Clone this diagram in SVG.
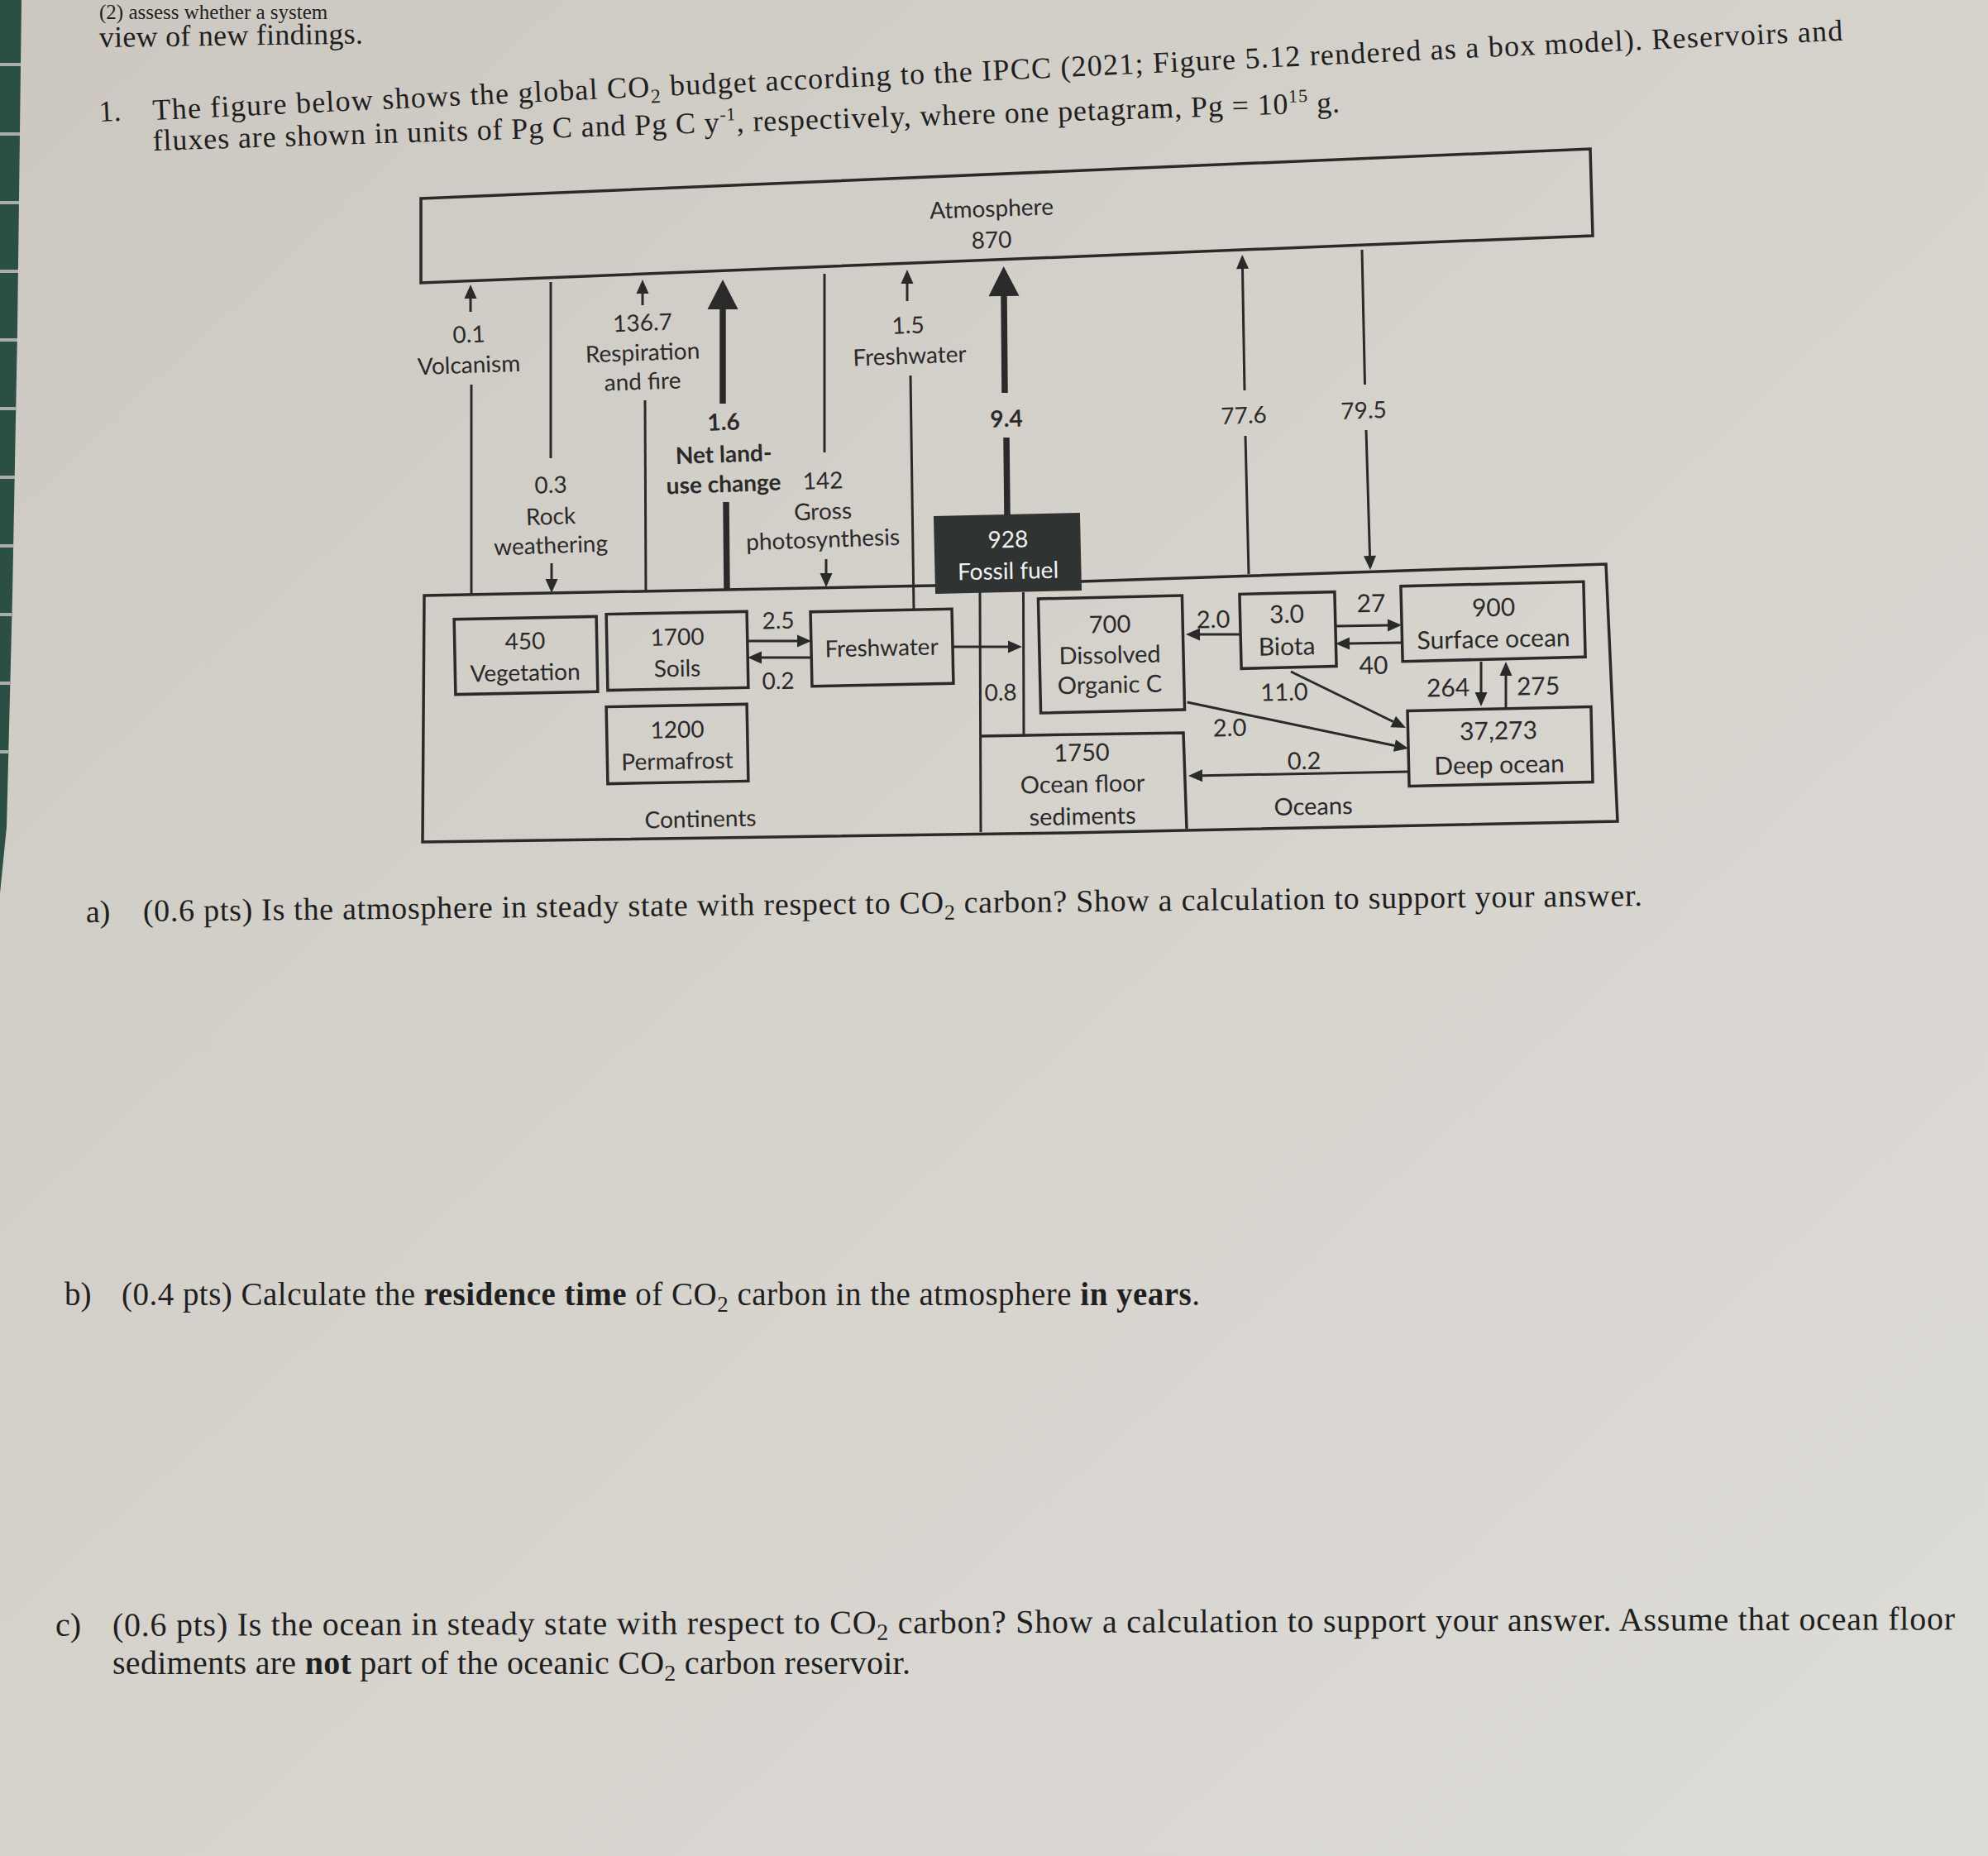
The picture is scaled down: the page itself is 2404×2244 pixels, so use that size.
<svg xmlns="http://www.w3.org/2000/svg" width="2404" height="2244" viewBox="0 0 2404 2244">
<defs>
<linearGradient id="paper" x1="0" y1="0" x2="1" y2="1">
<stop offset="0" stop-color="#ccc8c1"/>
<stop offset="0.5" stop-color="#d6d3cd"/>
<stop offset="1" stop-color="#dedcd7"/>
</linearGradient>
<marker id="ah" markerUnits="userSpaceOnUse" markerWidth="18" markerHeight="16" viewBox="0 -8 18 16" refX="0" refY="0" orient="auto" overflow="visible"><path d="M0,-7.5 L17,0 L0,7.5 Z" fill="#2a2a2a"/></marker>
<marker id="big" markerUnits="userSpaceOnUse" markerWidth="37" markerHeight="38" viewBox="0 -19 37 38" refX="0" refY="0" orient="auto" overflow="visible"><path d="M0,-18.5 L36,0 L0,18.5 Z" fill="#2a2a2a"/></marker>
</defs>
<style>
.ln{stroke:#2a2a2a;stroke-width:3;fill:none}
.thick{stroke:#2a2a2a;stroke-width:7.5;fill:none}
.bx{fill:none;stroke:#2a2a2a;stroke-width:3.5}
.t{font-family:Lato,'Open Sans','Liberation Sans',sans-serif;font-size:28px;fill:#2a2a2a;text-anchor:middle}
.r{font-size:30px}
.m{font-size:29px}
.b{font-weight:700}
.w{fill:#f2f2f2}
.up{transform-box:fill-box;transform-origin:center;transform:rotate(-2deg)}
.lo{transform-box:fill-box;transform-origin:center;transform:rotate(-1.2deg)}
.q{font-family:'Liberation Serif','Times New Roman',serif;fill:#1f1f1f}
.qb{font-weight:700}
</style>
<rect x="0" y="0" width="2404" height="2244" fill="url(#paper)"/>
<g id="binding">
<polygon points="0,0 26,0 21,400 15,720 8,1000 0,1080" fill="#2c4f43"/>
<g fill="#a9aeab">
<rect x="0" y="76" width="25" height="4"/><rect x="0" y="160" width="24" height="4"/><rect x="0" y="243" width="23" height="4"/><rect x="0" y="326" width="22" height="4"/><rect x="0" y="409" width="21" height="4"/><rect x="0" y="492" width="20" height="4"/><rect x="0" y="575" width="18" height="4"/><rect x="0" y="658" width="16" height="4"/><rect x="0" y="741" width="14" height="4"/><rect x="0" y="824" width="12" height="4"/><rect x="0" y="907" width="10" height="4"/>
</g>
</g>
<g id="header">
<text class="q" x="120" y="23" font-size="25">(2) assess whether a system</text>
<text class="q" x="120" y="57" font-size="36" textLength="319" lengthAdjust="spacing" transform="rotate(-0.8 120 57)">view of new findings.</text>
<text class="q" x="120" y="147" font-size="36" transform="rotate(-2.7 120 147)">1.</text>
<text class="q" x="185" y="145" font-size="36" textLength="2046" lengthAdjust="spacing" transform="rotate(-2.7 185 145)">The figure below shows the global CO<tspan font-size="24" dy="8">2</tspan><tspan dy="-8"> budget according to the IPCC (2021; Figure 5.12 rendered as a box model). Reservoirs and</tspan></text>
<text class="q" x="185" y="182" font-size="36" textLength="1436" lengthAdjust="spacing" transform="rotate(-1.85 185 182)">fluxes are shown in units of Pg C and Pg C y<tspan font-size="22" dy="-14">-1</tspan><tspan dy="14">, respectively, where one petagram, Pg = 10</tspan><tspan font-size="22" dy="-14">15</tspan><tspan dy="14"> g.</tspan></text>
</g>
<g id="atmosphere">
<polygon class="bx" points="509,240 1923,180 1926,285 509,342"/>
<text class="t up" x="1199" y="262">Atmosphere</text>
<text class="t up" x="1199" y="300">870</text>
</g>
<g id="frame">
<path class="bx" d="M513,720 L1130,708 L1307,703 L1942,682 L1956,993 L1290,1007 L511,1018 Z"/>
<text class="t lo" x="847" y="1000">Continents</text>
<text class="t m lo" x="1588" y="985">Oceans</text>
</g>
<g id="fossil-fuel">
<rect x="1130" y="622" width="177" height="94" fill="#2f3432" transform="rotate(-1.3 1218 669)"/>
<text class="t w lo" x="1219" y="662">928</text>
<text class="t w lo" x="1219" y="700">Fossil fuel</text>
</g>
<g id="vegetation">
<rect class="bx" x="550" y="747" width="172" height="91" transform="rotate(-1.1 636 792)"/>
<text class="t lo" x="635" y="785">450</text>
<text class="t lo" x="635" y="823">Vegetation</text>
</g>
<g id="soils">
<rect class="bx" x="734" y="741" width="170" height="92" transform="rotate(-1.1 819 787)"/>
<text class="t lo" x="819" y="780">1700</text>
<text class="t lo" x="819" y="818">Soils</text>
</g>
<g id="permafrost">
<rect class="bx" x="734" y="853" width="170" height="93" transform="rotate(-1.1 819 899)"/>
<text class="t lo" x="819" y="892">1200</text>
<text class="t lo" x="819" y="930">Permafrost</text>
</g>
<g id="freshwater">
<rect class="bx" x="981" y="738" width="171" height="90" transform="rotate(-1.2 1066 783)"/>
<text class="t lo" x="1066" y="793">Freshwater</text>
</g>
<g id="doc">
<rect class="bx" x="1257" y="722" width="174" height="138" transform="rotate(-1.3 1344 791)"/>
<text class="t m lo" x="1342" y="765">700</text>
<text class="t m lo" x="1342" y="802">Dissolved</text>
<text class="t m lo" x="1342" y="838">Organic C</text>
</g>
<g id="biota">
<rect class="bx" x="1500" y="717" width="115" height="90" transform="rotate(-1.4 1557 762)"/>
<text class="t r lo" x="1556" y="753">3.0</text>
<text class="t r lo" x="1556" y="792">Biota</text>
</g>
<g id="surface-ocean">
<rect class="bx" x="1695" y="706" width="221" height="91" transform="rotate(-1.4 1805 751)"/>
<text class="t r lo" x="1806" y="745">900</text>
<text class="t r lo" x="1806" y="783">Surface ocean</text>
</g>
<g id="deep-ocean">
<rect class="bx" x="1703" y="857" width="222" height="91" transform="rotate(-1.3 1814 902)"/>
<text class="t r lo" x="1812" y="894">37,273</text>
<text class="t r lo" x="1813" y="935">Deep ocean</text>
</g>
<g id="sediments">
<path class="bx" d="M1185,890 L1431,886 L1435,1002"/>
<text class="t m lo" x="1308" y="920">1750</text>
<text class="t m lo" x="1309" y="958">Ocean floor</text>
<text class="t m lo" x="1309" y="997">sediments</text>
</g>
<g id="connectors">
<line class="ln" x1="569" y1="377" x2="569" y2="361" marker-end="url(#ah)"/>
<line class="ln" x1="570" y1="465" x2="570" y2="719"/>
<line class="ln" x1="666" y1="341" x2="666" y2="554"/>
<line class="ln" x1="667" y1="681" x2="667" y2="700" marker-end="url(#ah)"/>
<line class="ln" x1="777" y1="369" x2="777" y2="355" marker-end="url(#ah)"/>
<line class="ln" x1="780" y1="484" x2="781" y2="715"/>
<line class="thick" x1="874" y1="488" x2="874" y2="374" marker-end="url(#big)"/>
<line class="thick" x1="878" y1="607" x2="879" y2="713"/>
<line class="ln" x1="997" y1="331" x2="997" y2="547"/>
<line class="ln" x1="999" y1="676" x2="999" y2="693" marker-end="url(#ah)"/>
<line class="ln" x1="1097" y1="364" x2="1097" y2="343" marker-end="url(#ah)"/>
<line class="ln" x1="1101" y1="454" x2="1105" y2="737"/>
<line class="thick" x1="1215" y1="475" x2="1214" y2="358" marker-end="url(#big)"/>
<line class="thick" x1="1217" y1="529" x2="1218" y2="623"/>
<line class="ln" x1="1505" y1="472" x2="1502.5" y2="325" marker-end="url(#ah)"/>
<line class="ln" x1="1506" y1="527" x2="1510" y2="694"/>
<line class="ln" x1="1647" y1="302" x2="1650.5" y2="465"/>
<line class="ln" x1="1652" y1="520" x2="1656.5" y2="672" marker-end="url(#ah)"/>
<line class="ln" x1="904" y1="775" x2="964" y2="775" marker-end="url(#ah)"/>
<line class="ln" x1="981" y1="795" x2="921" y2="795" marker-end="url(#ah)"/>
<line class="ln" x1="1152" y1="782" x2="1219" y2="782" marker-end="url(#ah)"/>
<line class="ln" x1="1185" y1="716" x2="1186" y2="1006"/>
<line class="ln" x1="1237.5" y1="716" x2="1238" y2="889"/>
<line class="ln" x1="1499" y1="767" x2="1451" y2="767" marker-end="url(#ah)"/>
<line class="ln" x1="1615" y1="757" x2="1678" y2="756" marker-end="url(#ah)"/>
<line class="ln" x1="1695" y1="777" x2="1632" y2="778" marker-end="url(#ah)"/>
<line class="ln" x1="1791" y1="800" x2="1791" y2="837" marker-end="url(#ah)"/>
<line class="ln" x1="1821" y1="856" x2="1821" y2="817" marker-end="url(#ah)"/>
<line class="ln" x1="1561" y1="812" x2="1684.7" y2="872.5" marker-end="url(#ah)"/>
<line class="ln" x1="1435.6" y1="849" x2="1686.4" y2="901.5" marker-end="url(#ah)"/>
<line class="ln" x1="1703" y1="933" x2="1454" y2="937.7" marker-end="url(#ah)"/>
</g>
<g id="flux-labels">
<text class="t up" x="567" y="414">0.1</text>
<text class="t up" x="567" y="451">Volcanism</text>
<text class="t up" x="666" y="596">0.3</text>
<text class="t up" x="666" y="634">Rock</text>
<text class="t up" x="666" y="669">weathering</text>
<text class="t up" x="777" y="400">136.7</text>
<text class="t up" x="777" y="436">Respiration</text>
<text class="t up" x="777" y="471">and fire</text>
<text class="t b up" x="875" y="520">1.6</text>
<text class="t b up" x="875" y="559">Net land-</text>
<text class="t b up" x="875" y="595">use change</text>
<text class="t up" x="995" y="591">142</text>
<text class="t up" x="995" y="628">Gross</text>
<text class="t up" x="995" y="662">photosynthesis</text>
<text class="t up" x="1098" y="403">1.5</text>
<text class="t up" x="1100" y="440">Freshwater</text>
<text class="t b up" x="1217" y="516">9.4</text>
<text class="t up" x="1504" y="512">77.6</text>
<text class="t up" x="1649" y="506">79.5</text>
<text class="t lo" x="941" y="760">2.5</text>
<text class="t lo" x="941" y="833">0.2</text>
<text class="t lo" x="1210" y="847">0.8</text>
<text class="t m lo" x="1467" y="759">2.0</text>
<text class="t r lo" x="1658" y="740">27</text>
<text class="t r lo" x="1661" y="815">40</text>
<text class="t r lo" x="1751" y="842">264</text>
<text class="t r lo" x="1860" y="840">275</text>
<text class="t m lo" x="1553" y="847">11.0</text>
<text class="t m lo" x="1487" y="890">2.0</text>
<text class="t m lo" x="1577" y="930">0.2</text>
</g>
<g id="questions">
<text class="q" x="104" y="1115" font-size="38" transform="rotate(-0.6 104 1115)">a)</text>
<text class="q" x="173" y="1114" font-size="38" textLength="1813" lengthAdjust="spacing" transform="rotate(-0.6 173 1114)">(0.6 pts) Is the atmosphere in steady state with respect to CO<tspan font-size="26" dy="8">2</tspan><tspan dy="-8"> carbon? Show a calculation to support your answer.</tspan></text>
<text class="q" x="78" y="1578" font-size="39">b)</text>
<text class="q" x="147" y="1578" font-size="39" textLength="1304" lengthAdjust="spacing">(0.4 pts) Calculate the <tspan class="qb">residence time</tspan> of CO<tspan font-size="27" dy="8">2</tspan><tspan dy="-8"> carbon in the atmosphere </tspan><tspan class="qb">in years</tspan>.</text>
<text class="q" x="67" y="1978" font-size="40">c)</text>
<text class="q" x="136" y="1978" font-size="40" textLength="2228" lengthAdjust="spacing" transform="rotate(-0.2 136 1978)">(0.6 pts) Is the ocean in steady state with respect to CO<tspan font-size="28" dy="8">2</tspan><tspan dy="-8"> carbon? Show a calculation to support your answer. Assume that ocean floor</tspan></text>
<text class="q" x="136" y="2024" font-size="40" textLength="965" lengthAdjust="spacing">sediments are <tspan class="qb">not</tspan> part of the oceanic CO<tspan font-size="28" dy="8">2</tspan><tspan dy="-8"> carbon reservoir.</tspan></text>
</g>
</svg>
